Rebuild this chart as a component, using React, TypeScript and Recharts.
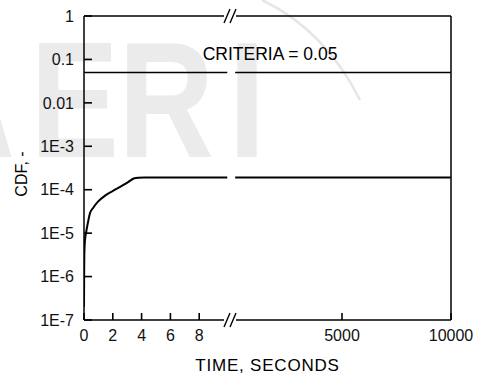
import React from 'react';
import { LineChart, Line, XAxis, YAxis, ReferenceLine, ReferenceDot } from 'recharts';

// CDF vs time, left part of the broken x axis (0..10 s)
const leftTimes = [0, 0.01, 0.03, 0.07, 0.14, 0.28, 0.42, 0.63, 0.97, 1.53, 2.22, 3.06, 3.5, 3.75, 4.2, 9.95];
const leftCdf = [2.0e-7, 1.0e-6, 4.0e-6, 7.0e-6, 1.0e-5, 1.8e-5, 2.9e-5, 3.8e-5, 5.3e-5, 7.6e-5, 1.03e-4, 1.5e-4, 1.84e-4, 1.89e-4, 1.9e-4, 1.9e-4];
// right part of the broken axis (up to 10000 s)
const rightTimes = [100, 10000];
const rightCdf = [1.9e-4, 1.9e-4];
const CRITERIA = 0.05;

const xMajorLeft = [0, 2, 4, 6, 8];
const xMinorLeft = [1, 3, 5, 7, 9];
const xMajorRight = [5000, 10000];
const xMinorRight = [2500, 7500];
const yDecades = [1e-7, 1e-6, 1e-5, 1e-4, 1e-3, 1e-2, 1e-1, 1];
const yLabels = ['1E-7', '1E-6', '1E-5', '1E-4', '1E-3', '0.01', '0.1', '1'];

const FONT = '"Liberation Sans", Arial, Helvetica, sans-serif';
const W = 480;
const H = 374;
const MARGIN = { top: 16, right: 29, bottom: 0, left: 0 };

// broken axis: both parts mapped onto one linear coordinate
const LEFT_SCALE = 14.4;
const RIGHT_START = 149;
const RIGHT_SCALE = 0.0218;
const leftU = (t: number) => t * LEFT_SCALE;
const rightU = (t: number) => RIGHT_START + t * RIGHT_SCALE;
const U_MAX = rightU(10000);
const X_DOMAIN = [0, U_MAX];
const Y_DOMAIN = [1e-7, 1];
const GAP_L = 140;
const GAP_R = 152;
const BREAK_U = 146;

const data = [
  ...leftTimes.map((t, i) => ({ u: leftU(t), cdf: leftCdf[i], crit: CRITERIA })),
  { u: BREAK_U, cdf: null, crit: null },
  ...rightTimes.map((t, i) => ({ u: rightU(t), cdf: rightCdf[i], crit: CRITERIA })),
];

const xMajor = [...xMajorLeft.map((t) => ({ u: leftU(t), label: String(t) })), ...xMajorRight.map((t) => ({ u: rightU(t), label: String(t) }))];
const xMinorU = [...xMinorLeft.map(leftU), ...xMinorRight.map(rightU)];
const xAllU = [...xMajor.map((d) => d.u), ...xMinorU];
const yMinor: number[] = [];
yDecades.forEach((d) => {
  if (d < 1) for (let k = 2; k <= 9; k++) yMinor.push(parseFloat((k * d).toPrecision(3)));
});

const xLabel = (v: number) => {
  const m = xMajor.find((d) => Math.abs(d.u - v) < 1e-6);
  return m ? m.label : '';
};
const yLabel = (v: number) => {
  const i = yDecades.findIndex((d) => Math.abs(d / v - 1) < 1e-6);
  return i >= 0 ? yLabels[i] : '';
};

const tickText = { fontSize: 16, fill: '#111', fontFamily: FONT };

const BreakMark = (props: any) => {
  const cx = Number(props.cx);
  const cy = Number(props.cy);
  return (
    <path
      d={`M${cx - 6},${cy + 7}L${cx},${cy - 7}M${cx},${cy + 7}L${cx + 6},${cy - 7}`}
      stroke="#000"
      strokeWidth={1.4}
      fill="none"
    />
  );
};

const YTitle = (props: any) => {
  const vb = props.viewBox || { x: 0, y: MARGIN.top, width: 84, height: 304 };
  const lx = vb.x + 27;
  const ly = vb.y + vb.height / 2 + 6;
  return (
    <text x={lx} y={ly} transform={`rotate(-90 ${lx} ${ly})`} textAnchor="middle" fontSize={16} fontFamily={FONT} fill="#000">
      CDF, -
    </text>
  );
};

export default function App() {
  return (
    <div style={{ position: 'absolute', left: 0, top: 0, width: W, height: H, background: '#fff' }}>
      <svg width={W} height={H} style={{ position: 'absolute', left: 0, top: 0 }}>
        <g transform="scale(0.8 1)" fill="#ebebeb" fontFamily={FONT} fontWeight="bold" fontSize={166}>
          <text x={-81 / 0.8} y={157}>A</text>
          <text x={30.3 / 0.8} y={157}>E</text>
          <text x={118.3 / 0.8} y={157}>R</text>
          <text x={228.5 / 0.8} y={157}>I</text>
        </g>
        <path d="M262 0 Q325 30 360 100" stroke="#e6e6e6" strokeWidth={2.5} fill="none" />
      </svg>
      <div style={{ position: 'absolute', left: 0, top: 0 }}>
        <LineChart width={W} height={H} data={data} margin={MARGIN}>
          {/* minor / mirrored tick axes, no labels */}
          <XAxis xAxisId="xmin" type="number" domain={X_DOMAIN} allowDataOverflow ticks={xMinorU} interval={0} mirror height={0}
            axisLine={false} tick={false} tickSize={4} stroke="#000" tickLine={{ stroke: '#000', strokeWidth: 1.6 }} />
          <XAxis xAxisId="xtop" orientation="top" type="number" domain={X_DOMAIN} allowDataOverflow ticks={xAllU} interval={0} mirror height={0}
            axisLine={false} tick={false} tickSize={2.5} stroke="#000" tickLine={{ stroke: '#000', strokeWidth: 1.2 }} />
          <YAxis yAxisId="ymin" type="number" scale="log" domain={Y_DOMAIN} allowDataOverflow ticks={yMinor} interval={0} mirror width={0}
            axisLine={false} tick={false} tickSize={5} stroke="#000" tickLine={{ stroke: '#000', strokeWidth: 1.3 }} />
          <YAxis yAxisId="rmaj" orientation="right" type="number" scale="log" domain={Y_DOMAIN} allowDataOverflow ticks={yDecades} interval={0} mirror width={0}
            axisLine={false} tick={false} tickSize={4} stroke="#000" tickLine={{ stroke: '#000', strokeWidth: 1.2 }} />
          <YAxis yAxisId="rmin" orientation="right" type="number" scale="log" domain={Y_DOMAIN} allowDataOverflow ticks={yMinor} interval={0} mirror width={0}
            axisLine={false} tick={false} tickSize={3} stroke="#000" tickLine={{ stroke: '#000', strokeWidth: 1.2 }} />
          {/* main axes with labels; negative tick size points the ticks inward */}
          <XAxis
            dataKey="u"
            type="number"
            domain={X_DOMAIN}
            allowDataOverflow
            ticks={xMajor.map((d) => d.u)}
            interval={0}
            axisLine={false}
            stroke="#000"
            tickLine={{ stroke: '#000', strokeWidth: 1.6 }}
            tickSize={-7}
            tickMargin={17}
            tickFormatter={xLabel}
            tick={tickText}
            height={54}
            label={{ value: 'TIME, SECONDS', position: 'insideBottom', offset: 3, fill: '#000', fontSize: 17, fontFamily: FONT, letterSpacing: 0.8 }}
          />
          <YAxis
            type="number"
            scale="log"
            domain={Y_DOMAIN}
            allowDataOverflow
            ticks={yDecades}
            interval={0}
            width={84}
            stroke="#000"
            axisLine={{ stroke: '#000', strokeWidth: 1.5 }}
            tickLine={{ stroke: '#000', strokeWidth: 1.6 }}
            tickSize={-8}
            tickMargin={18}
            tickFormatter={yLabel}
            tick={tickText}
            label={{ content: YTitle }}
          />
          <ReferenceLine segment={[{ x: 0, y: 1e-7 }, { x: GAP_L, y: 1e-7 }]} stroke="#000" strokeWidth={1.5} ifOverflow="visible" />
          <ReferenceLine segment={[{ x: GAP_R, y: 1e-7 }, { x: U_MAX, y: 1e-7 }]} stroke="#000" strokeWidth={1.5} ifOverflow="visible" />
          <ReferenceLine segment={[{ x: 0, y: 1 }, { x: GAP_L, y: 1 }]} stroke="#000" strokeWidth={1.5} ifOverflow="visible" />
          <ReferenceLine segment={[{ x: GAP_R, y: 1 }, { x: U_MAX, y: 1 }]} stroke="#000" strokeWidth={1.5} ifOverflow="visible" />
          <ReferenceLine x={U_MAX} stroke="#000" strokeWidth={1.5} ifOverflow="visible" />
          <ReferenceDot x={BREAK_U} y={1e-7} r={0} ifOverflow="visible" shape={BreakMark} />
          <ReferenceDot x={BREAK_U} y={1} r={0} ifOverflow="visible" shape={BreakMark} />
          <ReferenceDot
            x={rightU(1700)}
            y={CRITERIA}
            r={0}
            fill="none"
            stroke="none"
            ifOverflow="visible"
            label={{ value: 'CRITERIA = 0.05', position: 'top', offset: 12.5, fill: '#000', fontSize: 17.5, fontFamily: FONT }}
          />
          <Line dataKey="crit" type="linear" stroke="#000" strokeWidth={1.5} dot={false} connectNulls={false} isAnimationActive={false} />
          <Line dataKey="cdf" type="monotone" stroke="#000" strokeWidth={2} dot={false} connectNulls={false} isAnimationActive={false} />
        </LineChart>
      </div>
    </div>
  );
}
